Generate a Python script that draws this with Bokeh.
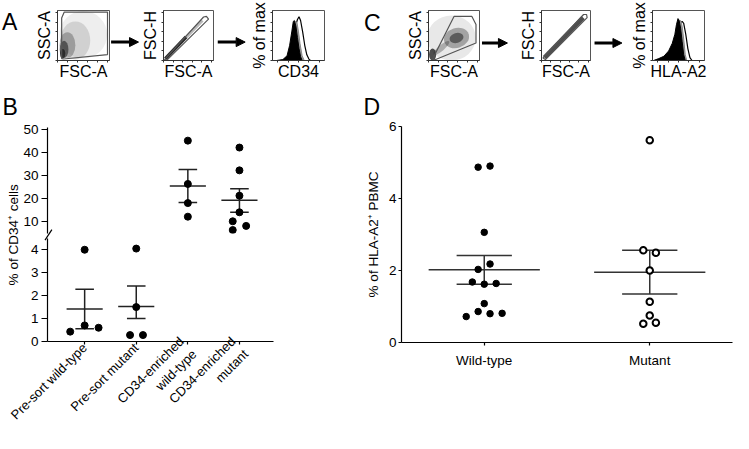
import math
import numpy as np
from bokeh.plotting import figure
from bokeh.models import Range1d, FixedTicker, Label, Arrow, NormalHead, GridBox
from bokeh.layouts import row, column
from bokeh.embed import file_html
from bokeh.resources import INLINE

# ---------------- data: panel B ----------------
b_categories = ["Pre-sort wild-type", "Pre-sort mutant", "CD34-enriched\nwild-type", "CD34-enriched\nmutant"]
b_presort_wt = [0.43, 0.70, 0.60, 4.00]
b_presort_wt_jitter = [-0.28, 0.0, 0.27, 0.0]
b_presort_mut = [1.50, 0.28, 0.28, 4.05]
b_presort_mut_jitter = [0.0, -0.12, 0.13, 0.0]
b_enriched_wt = [45.0, 26.2, 17.9, 12.0]
b_enriched_wt_jitter = [0.0, 0.0, 0.0, 0.0]
b_enriched_mut = [42.0, 32.1, 21.1, 13.9, 10.0, 6.2, 8.0]
b_enriched_mut_jitter = [0.0, 0.0, 0.0, 0.0, -0.13, -0.13, 0.13]
b_mean = [1.42, 1.53, 25.3, 19.1]
b_err_hi = [2.28, 2.42, 32.5, 24.1]
b_err_lo = [0.56, 1.00, 18.1, 13.9]
b_lower_ticks = [0, 1, 2, 3, 4]
b_upper_ticks = [10, 20, 30, 40, 50]

# ---------------- data: panel D ----------------
d_categories = ["Wild-type", "Mutant"]
d_wt = [4.87, 4.90, 3.06, 2.03, 2.18, 1.68, 1.62, 1.64, 1.08, 0.86, 0.72, 0.80, 0.81]
d_wt_jitter = [-0.037, 0.035, 0.0, -0.037, 0.035, -0.072, 0.0, 0.072, 0.0, -0.037, -0.109, 0.035, 0.108]
d_mut = [5.62, 2.56, 2.49, 2.00, 1.13, 0.75, 0.52, 0.55]
d_mut_jitter = [0.0, -0.039, 0.037, 0.0, 0.0, 0.0, -0.039, 0.037]
d_mean = [2.02, 1.95]
d_err_hi = [2.42, 2.56]
d_err_lo = [1.62, 1.35]
d_ticks = [0, 2, 4, 6]

# ---------------- data: flow-cytometry thumbnails (A, C) ----------------
scatter_ticks = [0, 50, 100, 150, 200, 250]
hist_xticks = [10, 30, 50, 70, 90]
hist_yticks = [0, 20, 40, 60, 80, 100]

a1_gate_x = [21, 21, 34, 252, 252, 31]
a1_gate_y = [10, 223, 254, 254, 31, 8]
a1_cloud_x = [130, 90, 50, 33, 26]
a1_cloud_y = [135, 105, 80, 58, 35]
a1_cloud_w = [240, 150, 80, 44, 26]
a1_cloud_h = [250, 200, 135, 90, 50]
a1_cloud_alpha = [0.08, 0.14, 0.30, 0.60, 0.85]

a2_gate_x = [5, 210, 225, 236, 18]
a2_gate_y = [5, 228, 231, 217, 2]
a2_band_x = [10, 204]
a2_band_y = [10, 210]
a2_core_x = [10, 118]
a2_core_y = [10, 123]

a3_black_x = [8, 20, 28, 33, 37, 40, 42, 45, 48, 51, 54, 57]
a3_black_y = [0, 2, 10, 32, 60, 82, 84, 72, 48, 25, 8, 0]
a3_grey_x = [20, 30, 36, 40, 44, 47, 50, 53, 57, 61]
a3_grey_y = [0, 8, 38, 68, 82, 80, 60, 35, 10, 0]
a3_open_x = [25, 33, 39, 44, 48, 51, 54, 58, 62, 66, 70, 73]
a3_open_y = [0, 8, 40, 72, 86, 92, 84, 60, 32, 12, 3, 0]

c1_gate_x = [21, 131, 223, 244, 244, 37]
c1_gate_y = [8, 231, 231, 189, 92, 5]
c1_cloud_x = [118, 66, 144, 144, 21]
c1_cloud_y = [118, 66, 118, 118, 31]
c1_cloud_w = [249, 105, 131, 73, 37]
c1_cloud_h = [236, 31, 105, 52, 63]
c1_cloud_angle = [0.0, 0.7, 0.3, 0.3, 0.0]
c1_cloud_alpha = [0.10, 0.30, 0.35, 0.55, 0.80]

c2_gate_x = [8, 225, 241, 244, 21]
c2_gate_y = [13, 241, 241, 225, 5]
c2_band_x = [16, 223]
c2_band_y = [16, 225]

c3_black_x = [2, 12, 22, 31, 38, 43, 46, 49, 51, 54, 57, 60, 63]
c3_black_y = [0, 4, 9, 20, 36, 55, 75, 88, 85, 68, 40, 12, 0]
c3_grey_x = [28, 38, 44, 48, 51, 54, 57, 60, 63, 66]
c3_grey_y = [0, 22, 48, 72, 82, 84, 72, 45, 12, 0]
c3_open_x = [32, 41, 47, 51, 54, 57, 60, 64, 68, 72, 76]
c3_open_y = [0, 26, 56, 76, 80, 82, 78, 55, 25, 6, 0]

# ---------------- layout helpers ----------------
W, H = 733, 433
SX = W / 749.0
SY = 0.945
FONT = "Liberation Sans"


def X(v):
    return int(round(v * SX))


def Y(v):
    return int(round(v * SY))


def base_fig(x0, x1, y0, y1, fx0, fx1, fy0, fy1, x_range, y_range, **kw):
    p = figure(width=X(x1) - X(x0), height=Y(y1) - Y(y0),
               x_range=x_range, y_range=y_range,
               output_backend="svg", toolbar_location=None,
               min_border_left=X(fx0) - X(x0), min_border_right=X(x1) - X(fx1),
               min_border_top=Y(fy0) - Y(y0), min_border_bottom=Y(y1) - Y(fy1),
               **kw)
    p.xgrid.visible = False
    p.ygrid.visible = False
    p.outline_line_color = None
    return p


def style_axis(ax, size="13.5px", tick_out=5, standoff=3):
    ax.axis_line_color = "black"
    ax.axis_line_width = 1.2
    ax.major_tick_line_color = "black"
    ax.major_tick_line_width = 1.2
    ax.major_tick_in = 0
    ax.major_tick_out = tick_out
    ax.minor_tick_in = 0
    ax.minor_tick_out = 0
    ax.major_label_text_font = FONT
    ax.major_label_text_font_size = size
    ax.major_label_text_color = "black"
    ax.major_label_standoff = standoff


def mini(x0, x1, fx0, fx1, xlabel, ylabel, xr, yr, xt, yt):
    p = base_fig(x0, x1, 0, 92, fx0, fx1, 11, 63, Range1d(*xr), Range1d(*yr))
    p.outline_line_color = "#555555"
    p.outline_line_width = 1
    for ax, lab, ticks, st in ((p.xaxis[0], xlabel, xt, 0), (p.yaxis[0], ylabel, yt, 3)):
        ax.ticker = FixedTicker(ticks=ticks, minor_ticks=[])
        ax.major_label_overrides = {t: "" for t in ticks}
        ax.major_label_text_font_size = "1px"
        ax.major_label_standoff = 0
        ax.major_tick_out = 2
        ax.major_tick_in = 0
        ax.minor_tick_out = 0
        ax.minor_tick_in = 0
        ax.axis_line_color = "#333333"
        ax.major_tick_line_color = "#333333"
        ax.axis_label = lab
        ax.axis_label_text_font = FONT
        ax.axis_label_text_font_size = "16px"
        ax.axis_label_text_font_style = "normal"
        ax.axis_label_text_color = "black"
        ax.axis_label_standoff = st
    return p


# ---------------- panel A ----------------
fA1 = mini(0, 141, 58, 111, "FSC-A", "SSC-A", (0, 262), (0, 262), scatter_ticks, scatter_ticks)
fA1.ellipse(x=a1_cloud_x, y=a1_cloud_y, width=a1_cloud_w, height=a1_cloud_h,
            fill_color="#222222", fill_alpha=a1_cloud_alpha, line_color=None)
fA1.patch(a1_gate_x, a1_gate_y, fill_color=None, line_color="#555555", line_width=1.2)

fA2 = mini(141, 251, 166, 218, "FSC-A", "FSC-H", (0, 262), (0, 262), scatter_ticks, scatter_ticks)
fA2.line(a2_band_x, a2_band_y, line_color="#333333", line_width=3, line_alpha=0.35)
fA2.line(a2_core_x, a2_core_y, line_color="#111111", line_width=3.5, line_alpha=0.85)
fA2.patch(a2_gate_x, a2_gate_y, fill_color=None, line_color="#555555", line_width=1.2)

fA3 = mini(251, 370, 278, 331, "CD34", "% of max", (0, 100), (0, 105), hist_xticks, hist_yticks)
fA3.patch(a3_open_x, a3_open_y, fill_color="white", line_color="black", line_width=1.2)
fA3.patch(a3_grey_x, a3_grey_y, fill_color="#9a9a9a", line_color="#888888", line_width=1)
fA3.patch(a3_black_x, a3_black_y, fill_color="black", line_color="black", line_width=1)

# ---------------- panel C ----------------
fC1 = mini(370, 527, 437, 489, "FSC-A", "SSC-A", (0, 262), (0, 262), scatter_ticks, scatter_ticks)
fC1.ellipse(x=c1_cloud_x, y=c1_cloud_y, width=c1_cloud_w, height=c1_cloud_h, angle=c1_cloud_angle,
            fill_color="#222222", fill_alpha=c1_cloud_alpha, line_color=None)
fC1.patch(c1_gate_x, c1_gate_y, fill_color=None, line_color="#555555", line_width=1.2)

fC2 = mini(527, 641, 551, 603, "FSC-A", "FSC-H", (0, 262), (0, 262), scatter_ticks, scatter_ticks)
fC2.line(c2_band_x, c2_band_y, line_color="#222222", line_width=4.5, line_alpha=0.8)
fC2.patch(c2_gate_x, c2_gate_y, fill_color=None, line_color="#555555", line_width=1.2)

fC3 = mini(641, 749, 666, 719, "HLA-A2", "% of max", (0, 100), (0, 105), hist_xticks, hist_yticks)
fC3.patch(c3_open_x, c3_open_y, fill_color="white", line_color="black", line_width=1.2)
fC3.patch(c3_grey_x, c3_grey_y, fill_color="#9a9a9a", line_color="#888888", line_width=1)
fC3.patch(c3_black_x, c3_black_y, fill_color="black", line_color="black", line_width=1)


# ---------------- stats helper ----------------
def draw_stats(p, xs, mean, hi, lo, mw, cw, color="#222222"):
    xs = np.asarray(xs, dtype=float)
    p.segment(xs - mw, mean, xs + mw, mean, line_color=color, line_width=1.5)
    p.segment(xs, lo, xs, hi, line_color=color, line_width=1.5)
    p.segment(xs - cw, hi, xs + cw, hi, line_color=color, line_width=1.5)
    p.segment(xs - cw, lo, xs + cw, lo, line_color=color, line_width=1.5)


# ---------------- panel B (broken axis: two stacked plots) ----------------
b_pos = np.arange(1, len(b_categories) + 1)
xr_b = Range1d(0.28, 4.66)

fBu = base_fig(0, 370, 92, 249.5, 48, 279, 134, 247, xr_b, Range1d(4.7, 50.7), x_axis_location=None)
style_axis(fBu.yaxis[0], tick_out=6, standoff=3)
fBu.yaxis[0].ticker = FixedTicker(ticks=b_upper_ticks, minor_ticks=[])
draw_stats(fBu, b_pos[2:], b_mean[2:], b_err_hi[2:], b_err_lo[2:], 0.35, 0.18)
fBu.scatter(b_pos[2] + np.array(b_enriched_wt_jitter), b_enriched_wt, size=7, color="black")
fBu.scatter(b_pos[3] + np.array(b_enriched_mut_jitter), b_enriched_mut, size=7, color="black")

fBl = base_fig(0, 370, 249.5, 433 / SY, 48, 279, 252, 363, xr_b, Range1d(0, 4.49))
style_axis(fBl.yaxis[0], tick_out=6, standoff=3)
fBl.yaxis[0].ticker = FixedTicker(ticks=b_lower_ticks, minor_ticks=[])
style_axis(fBl.xaxis[0], size="13px", tick_out=3, standoff=1)
fBl.xaxis[0].ticker = FixedTicker(ticks=list(b_pos), minor_ticks=[])
fBl.xaxis[0].major_label_overrides = {int(k): lab for k, lab in zip(b_pos, b_categories)}
fBl.xaxis[0].major_label_orientation = math.pi / 4
draw_stats(fBl, b_pos[:2], b_mean[:2], b_err_hi[:2], b_err_lo[:2], 0.35, 0.18)
fBl.scatter(b_pos[0] + np.array(b_presort_wt_jitter), b_presort_wt, size=7, color="black")
fBl.scatter(b_pos[1] + np.array(b_presort_mut_jitter), b_presort_mut, size=7, color="black")

# ---------------- panel D ----------------
d_pos = np.arange(1, len(d_categories) + 1)
fD = base_fig(370, 749, 92, 433 / SY, 404, 748, 133.3, 362, Range1d(0.5, 2.5), Range1d(0, 6))
style_axis(fD.yaxis[0], tick_out=3, standoff=2)
fD.yaxis[0].ticker = FixedTicker(ticks=d_ticks, minor_ticks=[])
fD.yaxis[0].axis_label = "% of HLA-A2⁺ PBMC"
fD.yaxis[0].axis_label_text_font = FONT
fD.yaxis[0].axis_label_text_font_size = "13.5px"
fD.yaxis[0].axis_label_text_font_style = "normal"
fD.yaxis[0].axis_label_text_color = "black"
fD.yaxis[0].axis_label_standoff = 5
style_axis(fD.xaxis[0], tick_out=3, standoff=7)
fD.xaxis[0].ticker = FixedTicker(ticks=list(d_pos), minor_ticks=[])
fD.xaxis[0].major_label_overrides = {int(k): lab for k, lab in zip(d_pos, d_categories)}
draw_stats(fD, d_pos, d_mean, d_err_hi, d_err_lo, 0.336, 0.167, color="#333333")
fD.scatter(d_pos[0] + np.array(d_wt_jitter), d_wt, size=6.5, color="black")
fD.scatter(d_pos[1] + np.array(d_mut_jitter), d_mut, size=6.5, fill_color="white",
           line_color="black", line_width=2)

# ---------------- overlay (panel letters, arrows, B axis title, axis break) ----------------
ov = figure(width=W, height=H, x_range=Range1d(0, W / SX), y_range=Range1d(H / SY, 0),
            x_axis_location=None, y_axis_location=None, min_border=0,
            toolbar_location=None, output_backend="svg")
ov.grid.visible = False
ov.outline_line_color = None
ov.background_fill_color = None
ov.border_fill_color = None

for txt, lx, ly in (("A", 1.5, 23), ("C", 371.5, 24), ("B", 2, 113), ("D", 371, 113)):
    ov.add_layout(Label(x=lx, y=ly, text=txt, text_font=FONT, text_font_size="23px",
                        text_baseline="alphabetic", text_align="left", text_color="black"))

for xs, xe, yy in ((113, 141, 44), (222, 250, 44), (492, 518, 45), (607, 635, 45)):
    ov.add_layout(Arrow(end=NormalHead(size=9, fill_color="black", line_color="black", line_width=1),
                        x_start=xs, y_start=yy, x_end=xe, y_end=yy, line_width=3, line_color="black"))

ov.add_layout(Label(x=13, y=248, text="% of CD34⁺ cells", angle=math.pi / 2, text_font=FONT,
                    text_font_size="13.5px", text_align="center", text_baseline="alphabetic",
                    text_color="black"))
ov.segment(x0=[45.5], y0=[253.5], x1=[52.5], y1=[242.5], line_color="black", line_width=1.2)

main = column(row(fA1, fA2, fA3, fC1, fC2, fC3), row(column(fBu, fBl), fD))
page = GridBox(children=[(main, 0, 0), (ov, 0, 0)])

open("out.html", "w").write(file_html(page, INLINE))
